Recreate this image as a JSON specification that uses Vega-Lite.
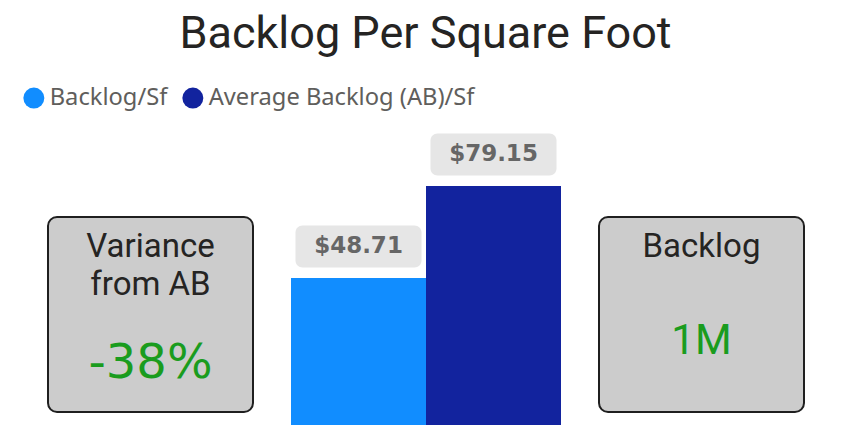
{
  "$schema": "https://vega.github.io/schema/vega-lite/v6.json",
  "background": "white",
  "padding": {"left": 22, "right": 20, "top": 12, "bottom": 10},
  "title": {"text": "Backlog Per Square Foot", "anchor": "middle", "font": "Roboto", "fontSize": 45, "fontWeight": "normal", "color": "#252423", "offset": 29, "dx": 12},
  "spacing": 38,
  "bounds": "flush",
  "hconcat": [
    {
      "width": 205,
      "height": 195,
      "view": {"fill": "#CCCCCC", "stroke": "#1F1F1F", "strokeWidth": 2, "cornerRadius": 9},
      "data": {"values": [{"label": "Variance\nfrom AB", "value": -0.3846}]},
      "layer": [
        {"mark": {"type": "text", "font": "Roboto", "fontSize": 33, "color": "#252423", "lineBreak": "\n", "lineHeight": 38, "baseline": "alphabetic", "dy": -57.5}, "encoding": {"text": {"field": "label", "type": "nominal"}}},
        {"mark": {"type": "text", "font": "DejaVu Sans", "fontSize": 48, "color": "#1A9C1E", "baseline": "alphabetic", "dy": 63.5}, "encoding": {"text": {"field": "value", "type": "quantitative", "format": ".0%"}}}
      ]
    },
    {
      "width": 270,
      "height": 208,
      "view": {"stroke": null},
      "data": {"values": [{"measure": "Backlog/Sf", "value": 48.71}, {"measure": "Average Backlog (AB)/Sf", "value": 79.15}]},
      "encoding": {
        "x": {"field": "measure", "type": "nominal", "sort": null, "scale": {"paddingInner": 0, "paddingOuter": 0}, "axis": null},
        "y": {"field": "value", "type": "quantitative", "scale": {"domain": [0, 68.88], "nice": false}, "axis": null}
      },
      "layer": [
        {
          "mark": {"type": "bar", "clip": false},
          "encoding": {
            "color": {
              "field": "measure", "type": "nominal", "sort": null,
              "scale": {"domain": ["Backlog/Sf", "Average Backlog (AB)/Sf"], "range": ["#118DFF", "#12239E"]},
              "legend": {"orient": "none", "legendX": -26, "legendY": -131, "direction": "horizontal", "title": null, "symbolType": "circle", "symbolSize": 441, "symbolStrokeWidth": 0, "labelFont": "Noto Sans", "labelFontSize": 23.7, "labelColor": "#605E5C", "labelOffset": 4, "columnPadding": 13, "padding": 0, "labelLimit": 400}
            }
          }
        },
        {"mark": {"type": "tick", "size": 126, "thickness": 42, "cornerRadius": 7, "color": "#E6E6E6", "opacity": 1, "yOffset": -31.5}},
        {"mark": {"type": "text", "font": "DejaVu Sans", "fontWeight": "bold", "fontSize": 23, "color": "#666666", "baseline": "middle", "yOffset": -31.5}, "encoding": {"text": {"field": "value", "type": "quantitative", "format": "$.2f"}}}
      ]
    },
    {
      "width": 205,
      "height": 195,
      "view": {"fill": "#CCCCCC", "stroke": "#1F1F1F", "strokeWidth": 2, "cornerRadius": 9},
      "data": {"values": [{"label": "Backlog", "value": 1000000}]},
      "layer": [
        {"mark": {"type": "text", "font": "Roboto", "fontSize": 33, "color": "#252423", "baseline": "alphabetic", "dy": -57.5}, "encoding": {"text": {"field": "label", "type": "nominal"}}},
        {"mark": {"type": "text", "font": "Roboto", "fontSize": 42, "color": "#1A9C1E", "baseline": "alphabetic", "dy": 39.5}, "encoding": {"text": {"field": "value", "type": "quantitative", "format": "~s"}}}
      ]
    }
  ],
  "config": {
    "locale": {"number": {"decimal": ".", "thousands": ",", "grouping": [3], "currency": ["$", ""], "minus": "-"}},
    "view": {"stroke": null}
  }
}
